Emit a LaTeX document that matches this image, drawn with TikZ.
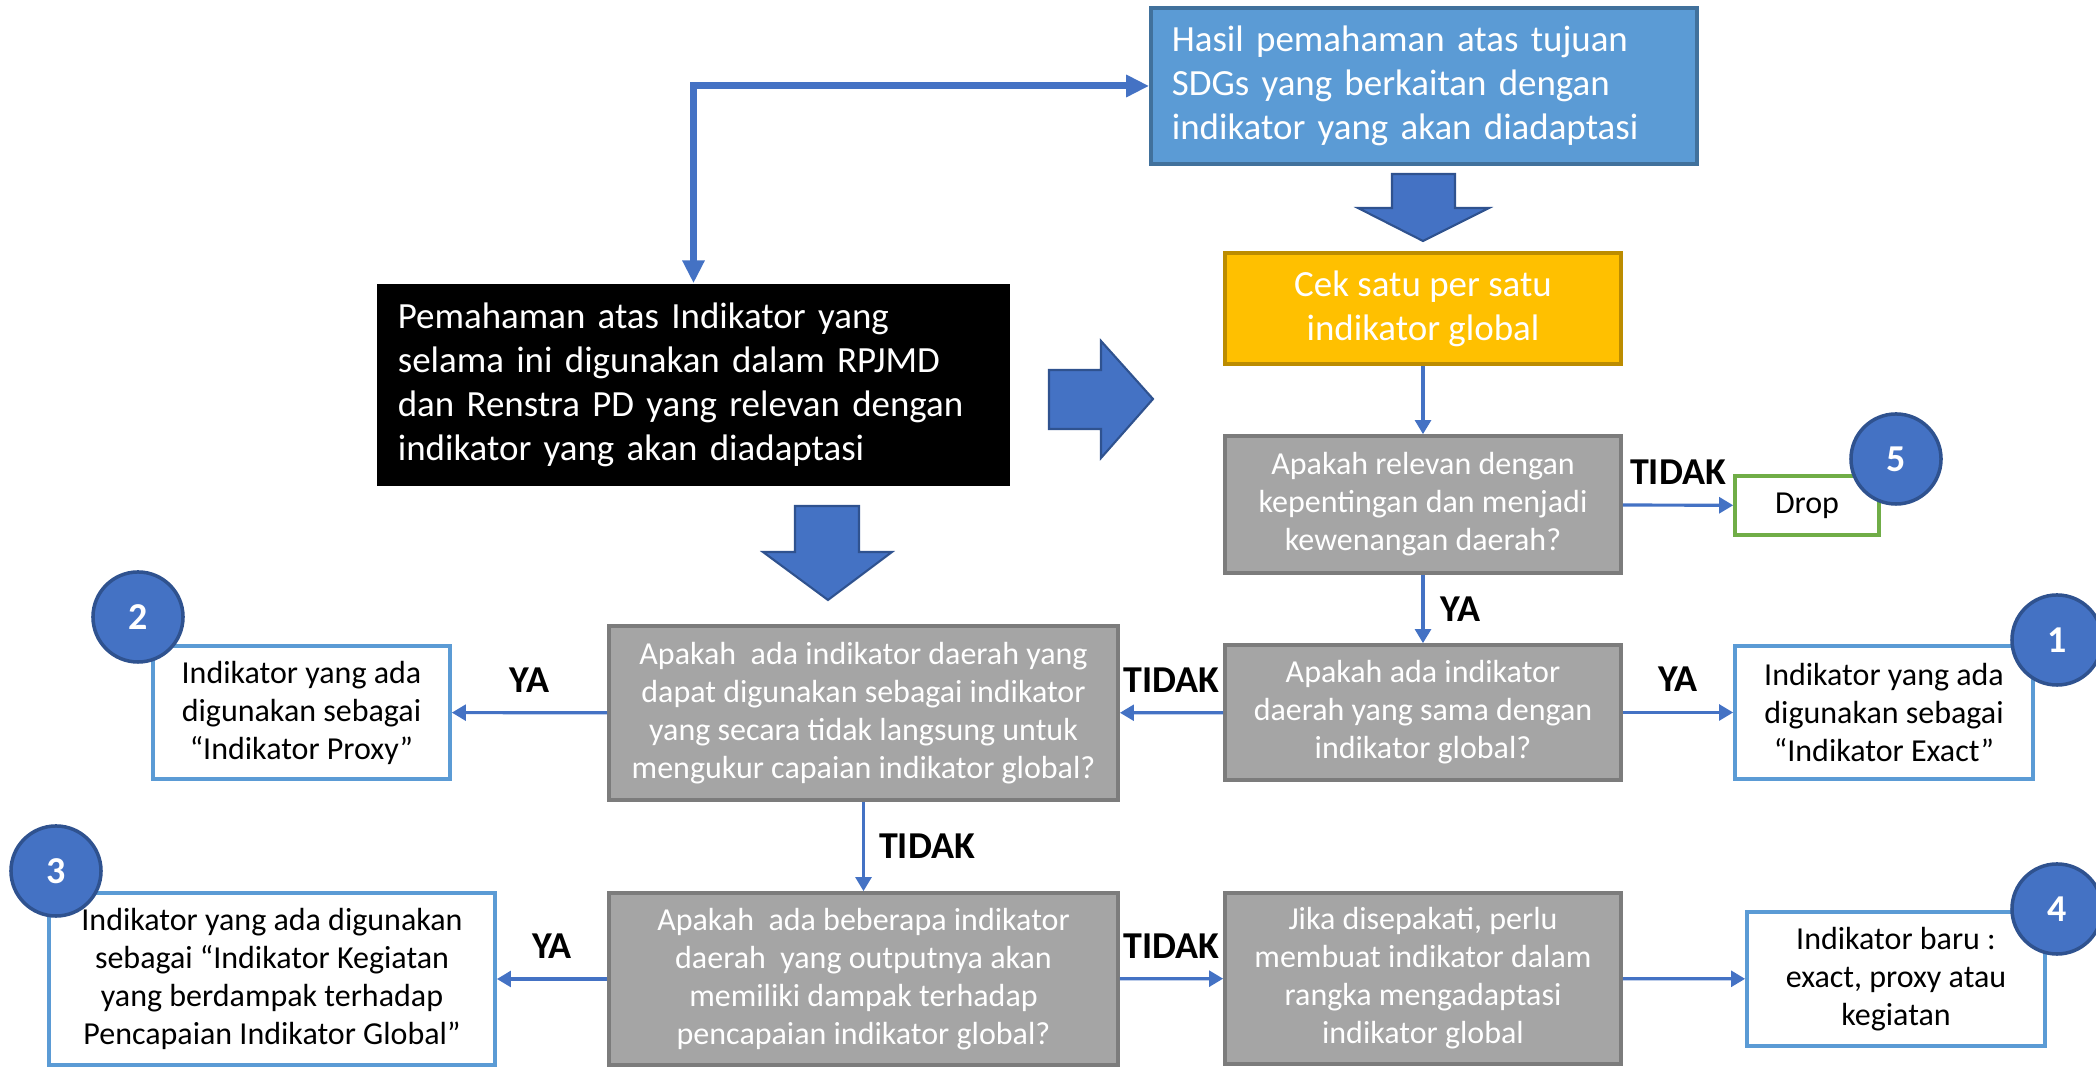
\documentclass[tikz,border=0pt]{standalone}
\usepackage{fontspec}
\setmainfont{Carlito}
\usetikzlibrary{arrows.meta}

\definecolor{arrowblue}{RGB}{68,114,196}
\definecolor{ringblue}{RGB}{47,82,143}
\definecolor{sdgblue}{RGB}{91,155,213}
\definecolor{sdgedge}{RGB}{65,113,156}
\definecolor{cekyellow}{RGB}{255,192,0}
\definecolor{cekedge}{RGB}{188,140,0}
\definecolor{askgray}{RGB}{165,165,165}
\definecolor{askedge}{RGB}{124,124,124}
\definecolor{dropgreen}{RGB}{112,173,71}

\begin{document}
\begin{tikzpicture}[x = 0.01cm, y = -0.01cm, > = {Triangle[width = 4.5pt, length = 4pt]},
	bigtext/.style = {font = \fontsize{10.5}{12.5}\selectfont},
	smalltext/.style = {font = \fontsize{9.1}{10.8}\selectfont},
	question/.style = {smalltext, draw = askedge, fill = askgray, text = white, line width = 1pt, align = center, inner sep = 0pt},
	answer/.style = {smalltext, draw = sdgblue, fill = white, line width = 1pt, align = center, inner sep = 0pt},
	number/.style = {circle, draw = ringblue, fill = arrowblue, text = white, line width = 1pt, minimum size = 0.9cm, inner sep = 0pt, font = \fontsize{10.8}{12}\bfseries},
	decision/.style = {text = black, font = \fontsize{10.8}{12}\bfseries, inner sep = 0pt},
	flow/.style = {->, arrowblue, line width = 0.9pt},
	blockarrow/.style = {fill = arrowblue, draw = ringblue, line width = 0.6pt}]

	\useasboundingbox (0, 0) rectangle (2096, 1074);

	% Starting boxes

	\node [bigtext, draw = sdgedge, fill = sdgblue, text = white, line width = 1pt, align = left, text width = 5.04cm, minimum height = 1.56cm, inner xsep = 0.21cm, inner ysep = 0pt] (hasil) at (1424, 86) {Hasil pemahaman atas tujuan\\SDGs yang berkaitan dengan\\indikator yang akan diadaptasi};
	\node [bigtext, fill = black, text = white, align = left, text width = 5.91cm, minimum height = 2.02cm, inner xsep = 0.21cm, inner ysep = 0pt] (pemahaman) at (693.5, 385) {Pemahaman atas Indikator yang\\selama ini digunakan dalam RPJMD\\dan Renstra PD yang relevan dengan\\indikator yang akan diadaptasi};
	\node [bigtext, draw = cekedge, fill = cekyellow, text = white, line width = 1pt, align = center, minimum width = 3.96cm, minimum height = 1.11cm, inner sep = 0pt] (cek) at (1423, 308.5) {Cek satu per satu\\indikator global};

	\draw [arrowblue, line width = 2pt, {Triangle[width = 6pt, length = 6.5pt]}-{Triangle[width = 6pt, length = 6.5pt]}] (pemahaman.north) |- (hasil.west);

	% Block arrows

	\filldraw [blockarrow] (1392, 174) -- (1455, 174) -- (1455, 208) -- (1489, 208) -- (1423, 241) -- (1358, 208) -- (1392, 208) -- cycle;
	\filldraw [blockarrow] (795, 506) -- (859, 506) -- (859, 552) -- (892, 552) -- (828, 600) -- (763, 552) -- (795, 552) -- cycle;
	\filldraw [blockarrow] (1049, 370) -- (1101, 370) -- (1101, 341) -- (1153, 399) -- (1101, 458) -- (1101, 429) -- (1049, 429) -- cycle;

	% Questions

	\node [question, minimum width = 3.96cm, minimum height = 1.37cm] (relevan) at (1423, 504.5) {Apakah relevan dengan\\kepentingan dan menjadi\\kewenangan daerah?};
	\node [question, minimum width = 3.96cm, minimum height = 1.35cm] (sama) at (1423, 712.5) {Apakah ada indikator\\daerah yang sama dengan\\indikator global?};
	\node [question, minimum width = 5.09cm, minimum height = 1.74cm] (proxy) at (863.5, 713) {Apakah\ \ ada indikator daerah yang\\dapat digunakan sebagai indikator\\yang secara tidak langsung untuk\\mengukur capaian indikator global?};
	\node [question, minimum width = 5.09cm, minimum height = 1.72cm] (beberapa) at (863.5, 979) {Apakah\ \ ada beberapa indikator\\daerah\ \ yang outputnya akan\\memiliki dampak terhadap\\pencapaian indikator global?};
	\node [question, minimum width = 3.96cm, minimum height = 1.71cm] (jika) at (1423, 978.5) {Jika disepakati, perlu\\membuat indikator dalam\\rangka mengadaptasi\\indikator global};

	% Outcomes

	\node [smalltext, draw = dropgreen, line width = 1pt, minimum width = 1.44cm, minimum height = 0.59cm, inner sep = 0pt] (drop) at (1807, 505.5) {Drop};
	\node [answer, minimum width = 2.98cm, minimum height = 1.33cm] (exact) at (1884, 712.5) {Indikator yang ada\\digunakan sebagai\\“Indikator Exact”};
	\node [answer, minimum width = 2.97cm, minimum height = 1.33cm] (proxyuse) at (301.5, 712.5) {Indikator yang ada\\digunakan sebagai\\“Indikator Proxy”};
	\node [answer, minimum width = 4.46cm, minimum height = 1.72cm] (kegiatan) at (272, 979) {Indikator yang ada digunakan\\sebagai “Indikator Kegiatan\\yang berdampak terhadap\\Pencapaian Indikator Global”};
	\node [answer, minimum width = 2.98cm, minimum height = 1.34cm] (baru) at (1896, 979) {Indikator baru :\\exact, proxy atau\\kegiatan};

	% Connectors

	\draw [flow] (cek) -- (relevan);
	\draw [flow] (relevan) -- node [decision, above = 0.19cm] {TIDAK} (drop);
	\draw [flow] (relevan) -- node [decision, right = 0.16cm] {YA} (sama);
	\draw [flow] (sama) -- node [decision, above = 0.19cm] {YA} (exact);
	\draw [flow] (sama) -- node [decision, above = 0.19cm] {TIDAK} (proxy);
	\draw [flow] (proxy) -- node [decision, above = 0.19cm] {YA} (proxyuse);
	\draw [flow] (proxy) -- node [decision, right = 0.14cm] {TIDAK} (beberapa);
	\draw [flow] (beberapa) -- node [decision, above = 0.19cm] {YA} (kegiatan);
	\draw [flow] (beberapa) -- node [decision, above = 0.19cm] {TIDAK} (jika);
	\draw [flow] (jika) -- (baru);

	% Numbers

	\node [number] (n1) at (2057, 640) {1};
	\node [number] (n2) at (138, 617) {2};
	\node [number] (n3) at (56, 871) {3};
	\node [number] (n4) at (2057, 909) {4};
	\node [number] (n5) at (1896, 459) {5};

\end{tikzpicture}
\end{document}
